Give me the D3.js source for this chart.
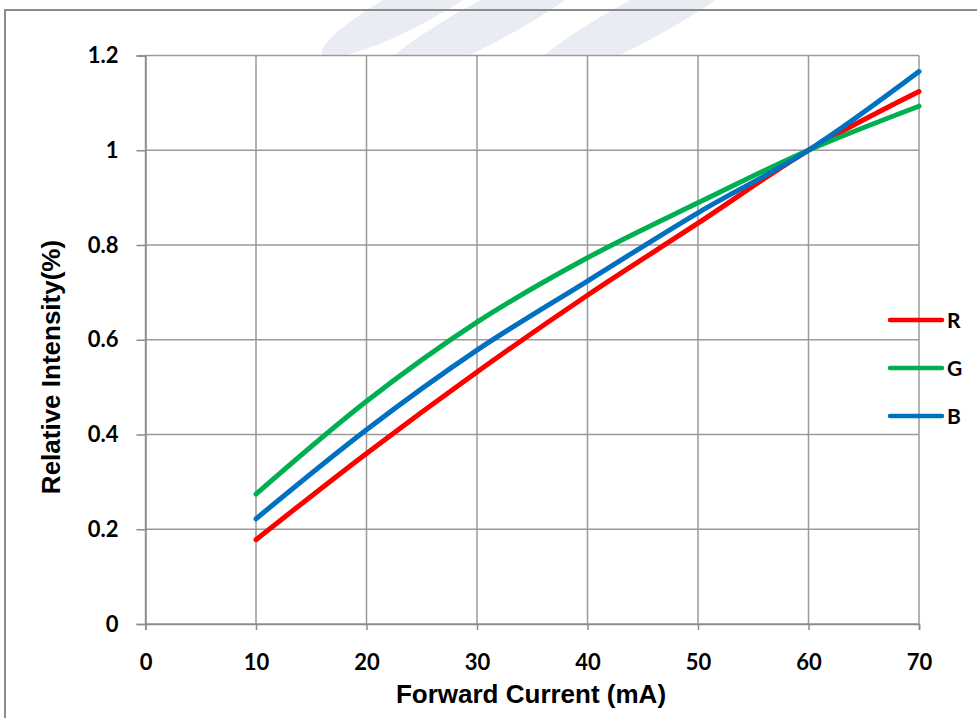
<!DOCTYPE html>
<html><head><meta charset="utf-8">
<script src="https://cdn.jsdelivr.net/npm/d3@7"></script>
<style>body{margin:0;background:#fff;} svg{display:block;}</style>
</head><body>
<svg id="chart" width="977" height="718"></svg>
<script>
const current = [10, 20, 30, 40, 50, 60, 70];
const seriesR = [0.178, 0.360, 0.532, 0.694, 0.846, 1.0, 1.124];
const seriesG = [0.274, 0.470, 0.637, 0.773, 0.889, 1.0, 1.093];
const seriesB = [0.222, 0.410, 0.578, 0.724, 0.868, 1.0, 1.166];
const seriesNames = ["R", "G", "B"];
const seriesColors = ["#FF0000", "#00B050", "#0070C0"];
const xTicks = [0, 10, 20, 30, 40, 50, 60, 70];
const yTicks = [0, 0.2, 0.4, 0.6, 0.8, 1, 1.2];
const xTitle = "Forward Current (mA)";
const yTitle = "Relative Intensity(%)";

const svg = d3.select("#chart");
const titleFont = "'Liberation Sans', Arial, sans-serif";
const tickFont = "Lato, 'Liberation Sans', sans-serif";

const x = d3.scaleLinear().domain([0, 70]).range([145.5, 919]);
const y = d3.scaleLinear().domain([0, 1.2]).range([624, 55.5]);

// faint watermark streaks
const wm = svg.append("g").attr("fill", "#e9ecf3");
[[415, 5, 105, 20], [490, 20, 130, 22], [640, 20, 130, 22]].forEach(([cx, cy, rx, ry]) => {
  wm.append("ellipse").attr("cx", cx).attr("cy", cy).attr("rx", rx).attr("ry", ry)
    .attr("transform", `rotate(-28,${cx},${cy})`);
});

// plot area background
svg.append("rect").attr("x", x(0)).attr("y", y(1.2)).attr("width", x(70) - x(0)).attr("height", y(0) - y(1.2))
  .attr("fill", "#fff");

// outer frame
svg.append("rect").attr("x", 5).attr("y", 10).attr("width", 1000).attr("height", 800)
  .attr("fill", "none").attr("stroke", "#8c8c8c").attr("stroke-width", 2);

// grid
const grid = svg.append("g").attr("stroke", "#9a9a9a").attr("stroke-width", 1.5);
xTicks.forEach(t => grid.append("line").attr("x1", x(t)).attr("x2", x(t)).attr("y1", y(1.2)).attr("y2", y(0)));
yTicks.forEach(t => grid.append("line").attr("x1", x(0)).attr("x2", x(70)).attr("y1", y(t)).attr("y2", y(t)));

// axes
const xAxis = svg.append("g").attr("transform", `translate(0,${y(0)})`)
  .call(d3.axisBottom(x).tickValues(xTicks).tickSize(6).tickPadding(36).tickFormat(d3.format("d")));
const yAxis = svg.append("g").attr("transform", `translate(${x(0)},0)`)
  .call(d3.axisLeft(y).tickValues(yTicks).tickSize(9).tickPadding(18).tickFormat(d => d === 0 ? "0" : (d === 1 ? "1" : d3.format(".1f")(d))));
[xAxis, yAxis].forEach(a => {
  a.select(".domain").attr("stroke", "#8c8c8c").attr("stroke-width", 1.5);
  a.selectAll(".tick line").attr("stroke", "#8c8c8c").attr("stroke-width", 1.5);
  a.selectAll(".tick text").attr("fill", "#000").attr("font-family", tickFont)
    .attr("font-weight", "bold").attr("font-size", 22);
});
xAxis.selectAll(".tick text").attr("dy", "0.2em");

// lines
const lineGen = d3.line().x((d, i) => x(current[i])).y(d => y(d)).curve(d3.curveMonotoneX);
[seriesR, seriesG, seriesB].forEach((s, k) => {
  svg.append("path").datum(s).attr("d", lineGen).attr("fill", "none")
    .attr("stroke", seriesColors[k]).attr("stroke-width", 5).attr("stroke-linecap", "round");
});

// legend
const legY = [320, 368, 416];
seriesNames.forEach((n, k) => {
  svg.append("line").attr("x1", 890).attr("x2", 942).attr("y1", legY[k]).attr("y2", legY[k])
    .attr("stroke", seriesColors[k]).attr("stroke-width", 4.5).attr("stroke-linecap", "round");
  svg.append("text").attr("x", 947).attr("y", legY[k]).attr("dy", "0.36em")
    .attr("font-family", tickFont).attr("font-weight", "bold").attr("font-size", 21).text(n);
});

// titles
svg.append("text").attr("x", 531).attr("y", 703).attr("text-anchor", "middle")
  .attr("font-family", titleFont).attr("font-weight", "bold").attr("font-size", 26).text(xTitle);
svg.append("text").attr("transform", "translate(60,367) rotate(-90)").attr("text-anchor", "middle")
  .attr("font-family", titleFont).attr("font-weight", "bold").attr("font-size", 26).text(yTitle);
</script>
</body></html>
